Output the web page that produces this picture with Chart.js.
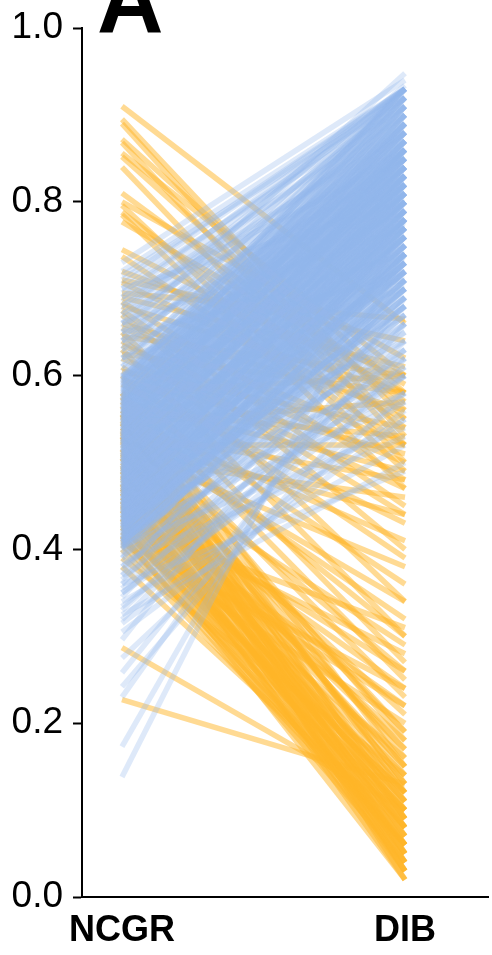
<!DOCTYPE html>
<html>
<head>
<meta charset="utf-8">
<title>NCGR vs DIB</title>
<script src="https://cdn.jsdelivr.net/npm/chart.js@4.4.1/dist/chart.umd.min.js"></script>
<style>
  html, body { margin: 0; padding: 0; background: #fff; }
  #wrap { width: 492px; height: 955px; }
</style>
</head>
<body>
<div id="wrap"><canvas id="slopeChart" width="492" height="955"></canvas></div>
<script>
const groups = ['NCGR', 'DIB'];
const yTicks = [0, 0.2, 0.4, 0.6, 0.8, 1.0];

// orange = goes down from NCGR to DIB
const orangeNcgr = [
  // upper ones
  0.91, 0.895, 0.89, 0.872, 0.868, 0.856, 0.852, 0.84, 0.81, 0.80,
  0.796, 0.788, 0.785, 0.777, 0.745, 0.737, 0.72, 0.71, 0.707, 0.695,
  0.69, 0.685,
  // middle
  0.68, 0.675, 0.67, 0.66, 0.655, 0.65, 0.645, 0.64, 0.635, 0.63,
  0.625, 0.62, 0.61, 0.605, 0.60, 0.595, 0.59, 0.58, 0.575, 0.57,
  0.56, 0.555, 0.55, 0.545, 0.54, 0.535, 0.53, 0.525, 0.52, 0.515,
  0.51, 0.505, 0.50,
  // the big bunch that ends near zero
  0.58, 0.575, 0.57, 0.565, 0.56, 0.556, 0.552, 0.548, 0.545, 0.54,
  0.537, 0.533, 0.53, 0.527, 0.523, 0.52, 0.516, 0.512, 0.508, 0.505,
  0.50, 0.497, 0.493, 0.49, 0.486, 0.483, 0.48, 0.476, 0.472, 0.468,
  0.465, 0.46, 0.456, 0.452, 0.448, 0.445, 0.44, 0.436, 0.432, 0.428,
  0.425, 0.42, 0.416, 0.412, 0.408, 0.405, 0.40, 0.39, 0.38, 0.47,
  0.46, 0.45, 0.287, 0.227,
  0.555, 0.535, 0.515, 0.495, 0.475, 0.455, 0.435, 0.415, 0.545, 0.525,
  0.505, 0.485, 0.465, 0.445, 0.425, 0.53, 0.51, 0.49, 0.47, 0.45,
  0.58, 0.56, 0.54, 0.53, 0.47, 0.44, 0.42, 0.46, 0.43, 0.41
];
const orangeDib = [
  0.66, 0.55, 0.53, 0.58, 0.52, 0.60, 0.56, 0.50, 0.57, 0.62,
  0.49, 0.54, 0.47, 0.59, 0.58, 0.52, 0.60, 0.64, 0.55, 0.665,
  0.61, 0.48,
  0.58, 0.45, 0.40, 0.56, 0.52, 0.34, 0.60, 0.44, 0.50, 0.30,
  0.58, 0.47, 0.39, 0.54, 0.27, 0.51, 0.43, 0.60, 0.36, 0.49,
  0.53, 0.23, 0.41, 0.57, 0.32, 0.48, 0.26, 0.44, 0.52, 0.38,
  0.21, 0.46, 0.29,
  0.15, 0.09, 0.12, 0.05, 0.18, 0.08, 0.13, 0.03, 0.10, 0.16,
  0.06, 0.11, 0.02, 0.14, 0.07, 0.19, 0.04, 0.09, 0.12, 0.06,
  0.15, 0.03, 0.10, 0.08, 0.17, 0.05, 0.12, 0.02, 0.09, 0.14,
  0.06, 0.11, 0.04, 0.08, 0.13, 0.03, 0.10, 0.06, 0.16, 0.05,
  0.09, 0.12, 0.04, 0.07, 0.20, 0.10, 0.06, 0.14, 0.08, 0.18,
  0.11, 0.22, 0.10, 0.13,
  0.04, 0.07, 0.03, 0.11, 0.05, 0.08, 0.02, 0.06, 0.13, 0.09,
  0.04, 0.15, 0.07, 0.10, 0.12, 0.05, 0.17, 0.08, 0.03, 0.06,
  0.25, 0.30, 0.19, 0.34, 0.24, 0.28, 0.22, 0.26, 0.31, 0.24
];

// blue = goes up from NCGR to DIB
const blueNcgr = [
  0.600, 0.598, 0.596, 0.594, 0.592, 0.590, 0.588, 0.586, 0.584, 0.582,
  0.580, 0.578, 0.576, 0.574, 0.572, 0.570, 0.568, 0.566, 0.564, 0.562,
  0.560, 0.558, 0.556, 0.554, 0.552, 0.550, 0.548, 0.546, 0.544, 0.542,
  0.540, 0.538, 0.536, 0.534, 0.532, 0.530, 0.528, 0.526, 0.524, 0.522,
  0.520, 0.518, 0.516, 0.514, 0.512, 0.510, 0.508, 0.506, 0.504, 0.502,
  0.500, 0.498, 0.496, 0.494, 0.492, 0.490, 0.488, 0.486, 0.484, 0.482,
  0.480, 0.478, 0.476, 0.474, 0.472, 0.470, 0.468, 0.466, 0.464, 0.462,
  0.460, 0.458, 0.456, 0.454, 0.452, 0.450, 0.448, 0.446, 0.444, 0.442,
  0.440, 0.438, 0.436, 0.434, 0.432, 0.430, 0.428, 0.426, 0.424, 0.422,
  0.420, 0.418, 0.416, 0.414, 0.412, 0.410, 0.408, 0.406, 0.404, 0.402,
  0.599, 0.597, 0.595, 0.593, 0.591, 0.589, 0.587, 0.585, 0.583, 0.581,
  0.579, 0.577, 0.575, 0.573, 0.571, 0.569, 0.567, 0.565, 0.563, 0.561,
  0.559, 0.557, 0.555, 0.553, 0.551, 0.549, 0.547, 0.545, 0.543, 0.541,
  0.539, 0.537, 0.535, 0.533, 0.531, 0.529, 0.527, 0.525, 0.523, 0.521,
  0.519, 0.517, 0.515, 0.513, 0.511, 0.509, 0.507, 0.505, 0.503, 0.501,
  0.499, 0.497, 0.495, 0.493, 0.491, 0.489, 0.487, 0.485, 0.483, 0.481,
  0.479, 0.477, 0.475, 0.473, 0.471, 0.469, 0.467, 0.465, 0.463, 0.461,
  0.459, 0.457, 0.455, 0.453, 0.451, 0.449, 0.447, 0.445, 0.443, 0.441,
  0.439, 0.437, 0.435, 0.433, 0.431, 0.429, 0.427, 0.425, 0.423, 0.421,
  0.419, 0.417, 0.415, 0.413, 0.411, 0.409, 0.407, 0.405, 0.403, 0.401,
  0.571, 0.568, 0.566, 0.563, 0.561, 0.558, 0.556, 0.553, 0.551, 0.548,
  0.546, 0.543, 0.541, 0.538, 0.536, 0.533, 0.531, 0.528, 0.526, 0.523,
  0.521, 0.518, 0.516, 0.513, 0.511, 0.508, 0.506, 0.503, 0.501, 0.498,
  0.496, 0.493, 0.491, 0.488, 0.486, 0.483, 0.481, 0.478, 0.476, 0.473,
  0.471, 0.468, 0.466, 0.463, 0.461, 0.458, 0.456, 0.453, 0.451, 0.448,
  0.446, 0.443, 0.441, 0.438, 0.436, 0.433, 0.431, 0.428, 0.426, 0.423,
  // sparse upper
  0.73, 0.72, 0.715, 0.71, 0.705, 0.70, 0.695, 0.69, 0.685, 0.68,
  0.675, 0.67, 0.665, 0.66, 0.655, 0.65, 0.645, 0.64, 0.635, 0.63,
  0.625, 0.62, 0.615, 0.61, 0.605, 0.67, 0.66, 0.64, 0.62, 0.61,
  0.68, 0.65, 0.63, 0.69, 0.66, 0.64, 0.62, 0.70, 0.60, 0.65,
  // sparse lower
  0.138, 0.173, 0.23, 0.242, 0.258, 0.275, 0.296, 0.305, 0.319, 0.334,
  0.34, 0.345, 0.35, 0.355, 0.36, 0.365, 0.37, 0.375, 0.38, 0.385,
  0.39, 0.393, 0.396, 0.40, 0.404, 0.408, 0.412, 0.416, 0.42, 0.425,
  0.43, 0.435, 0.44, 0.445, 0.45, 0.455, 0.46, 0.47, 0.48, 0.49,
  0.36, 0.37, 0.38, 0.39, 0.40, 0.41, 0.33, 0.35, 0.325, 0.315
];
const blueDib = [
  0.92, 0.86, 0.93, 0.88, 0.92, 0.84, 0.89, 0.93, 0.86, 0.89,
  0.85, 0.91, 0.88, 0.82, 0.92, 0.87, 0.84, 0.90, 0.83, 0.89,
  0.88, 0.82, 0.91, 0.85, 0.87, 0.80, 0.86, 0.90, 0.82, 0.84,
  0.81, 0.87, 0.84, 0.78, 0.89, 0.83, 0.80, 0.86, 0.79, 0.85,
  0.84, 0.78, 0.87, 0.81, 0.83, 0.76, 0.82, 0.86, 0.77, 0.80,
  0.77, 0.83, 0.80, 0.74, 0.85, 0.79, 0.76, 0.82, 0.75, 0.81,
  0.80, 0.74, 0.83, 0.77, 0.79, 0.72, 0.78, 0.82, 0.73, 0.76,
  0.73, 0.79, 0.76, 0.70, 0.81, 0.75, 0.72, 0.78, 0.71, 0.77,
  0.76, 0.70, 0.79, 0.73, 0.75, 0.68, 0.74, 0.78, 0.69, 0.72,
  0.69, 0.75, 0.72, 0.66, 0.77, 0.71, 0.68, 0.74, 0.67, 0.73,
  0.87, 0.93, 0.90, 0.84, 0.93, 0.91, 0.86, 0.92, 0.85, 0.90,
  0.91, 0.86, 0.88, 0.93, 0.83, 0.89, 0.85, 0.92, 0.87, 0.84,
  0.83, 0.89, 0.86, 0.80, 0.91, 0.87, 0.82, 0.88, 0.81, 0.86,
  0.88, 0.83, 0.85, 0.90, 0.80, 0.86, 0.82, 0.89, 0.84, 0.81,
  0.79, 0.85, 0.82, 0.76, 0.87, 0.83, 0.78, 0.84, 0.77, 0.82,
  0.84, 0.79, 0.81, 0.86, 0.76, 0.82, 0.78, 0.85, 0.80, 0.77,
  0.75, 0.81, 0.78, 0.72, 0.83, 0.79, 0.74, 0.80, 0.73, 0.78,
  0.80, 0.75, 0.77, 0.82, 0.72, 0.78, 0.74, 0.81, 0.76, 0.73,
  0.71, 0.77, 0.74, 0.68, 0.79, 0.75, 0.70, 0.76, 0.69, 0.74,
  0.76, 0.71, 0.73, 0.78, 0.68, 0.74, 0.70, 0.77, 0.72, 0.69,
  0.90, 0.85, 0.88, 0.92, 0.83, 0.87, 0.91, 0.84, 0.86, 0.89,
  0.82, 0.88, 0.85, 0.90, 0.81, 0.86, 0.83, 0.89, 0.80, 0.84,
  0.87, 0.79, 0.84, 0.88, 0.81, 0.85, 0.78, 0.83, 0.86, 0.80,
  0.77, 0.84, 0.81, 0.86, 0.78, 0.82, 0.75, 0.83, 0.79, 0.76,
  0.81, 0.74, 0.79, 0.83, 0.76, 0.80, 0.73, 0.78, 0.82, 0.75,
  0.72, 0.79, 0.76, 0.80, 0.73, 0.77, 0.70, 0.78, 0.74, 0.71,
  0.94, 0.93, 0.92, 0.93, 0.93, 0.91, 0.92, 0.93, 0.90, 0.93,
  0.91, 0.93, 0.89, 0.934, 0.92, 0.948, 0.90, 0.93, 0.88, 0.92,
  0.93, 0.87, 0.91, 0.93, 0.89, 0.86, 0.84, 0.85, 0.83, 0.81,
  0.88, 0.82, 0.79, 0.85, 0.77, 0.74, 0.72, 0.80, 0.70, 0.71,
  0.78, 0.74, 0.69, 0.62, 0.66, 0.58, 0.71, 0.55, 0.64, 0.60,
  0.52, 0.68, 0.57, 0.63, 0.49, 0.66, 0.55, 0.70, 0.60, 0.53,
  0.65, 0.58, 0.71, 0.62, 0.54, 0.67, 0.60, 0.64, 0.57, 0.69,
  0.61, 0.66, 0.58, 0.63, 0.68, 0.60, 0.65, 0.62, 0.67, 0.64,
  0.72, 0.75, 0.67, 0.74, 0.70, 0.73, 0.63, 0.61, 0.50, 0.56
];

const ORANGE = 'rgba(255, 181, 40, 0.5)';
const BLUE = 'rgba(146, 181, 234, 0.3)';

function pairLine(a, b, color, order) {
  return {
    data: [{ x: 0, y: a }, { x: 1, y: b }],
    borderColor: color,
    borderWidth: 5.5,
    pointRadius: 0,
    showLine: true,
    fill: false,
    order: order
  };
}

const datasets = [];
// lower order is painted last, so blue sits on top of orange
for (let i = 0; i < blueNcgr.length; i++) datasets.push(pairLine(blueNcgr[i], blueDib[i], BLUE, 0));
for (let i = 0; i < orangeNcgr.length; i++) datasets.push(pairLine(orangeNcgr[i], orangeDib[i], ORANGE, 1));

// big panel letter
const panelLetter = {
  id: 'panelLetter',
  afterDraw(chart) {
    const ctx = chart.ctx;
    ctx.save();
    ctx.fillStyle = '#000';
    ctx.font = 'bold 92px "Liberation Sans", Arial, sans-serif';
    ctx.textBaseline = 'alphabetic';
    ctx.textAlign = 'left';
    ctx.fillText('A', 97, 32);
    ctx.restore();
  }
};

new Chart(document.getElementById('slopeChart'), {
  type: 'scatter',
  data: { datasets: datasets },
  plugins: [panelLetter],
  options: {
    responsive: false,
    animation: false,
    events: [],
    layout: { padding: { top: 28, right: 4, bottom: 0, left: 0 } },
    plugins: { legend: { display: false }, tooltip: { enabled: false } },
    scales: {
      x: {
        type: 'linear',
        min: -0.1413,
        max: 1.2932,
        afterBuildTicks: s => { s.ticks = [{ value: 0 }, { value: 1 }]; },
        afterFit: s => { s.height = 58; s.paddingLeft = 0; s.paddingRight = 0; },
        ticks: {
          callback: v => groups[v],
          color: '#000',
          padding: 12,
          maxRotation: 0,
          font: { family: '"Liberation Sans", Arial, sans-serif', size: 36, weight: 'bold' }
        },
        grid: { display: true, drawOnChartArea: false, drawTicks: false },
        border: { display: true, color: '#000', width: 2 }
      },
      y: {
        min: 0,
        max: 1,
        afterBuildTicks: s => { s.ticks = yTicks.map(v => ({ value: v })); },
        afterFit: s => { s.width = 82; s.paddingTop = 0; s.paddingBottom = 0; },
        ticks: {
          callback: v => v.toFixed(1),
          color: '#000',
          padding: 10,
          font: { family: '"Liberation Sans", Arial, sans-serif', size: 37 }
        },
        grid: { drawOnChartArea: false, drawTicks: true, tickLength: 9, tickWidth: 2, color: '#000' },
        border: { display: true, color: '#000', width: 2 }
      }
    }
  }
});
</script>
</body>
</html>
